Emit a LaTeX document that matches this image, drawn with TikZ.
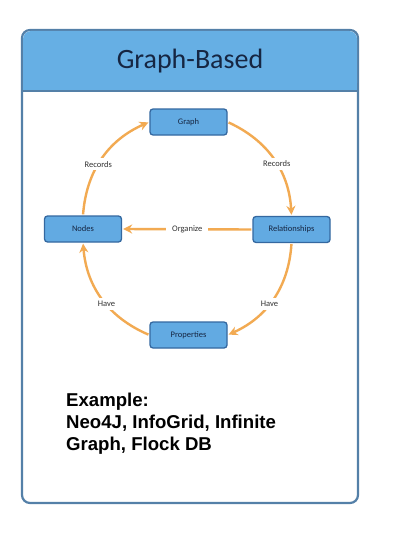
\documentclass[tikz,border=0pt]{standalone}
\usepackage{fontspec}
\setmainfont{Carlito}
\newfontfamily\arialfont{Liberation Sans}
\usetikzlibrary{arrows.meta,positioning}
\definecolor{hdrblue}{RGB}{102,175,228}
\definecolor{boxedge}{RGB}{84,128,168}
\definecolor{nodeblue}{RGB}{98,170,226}
\definecolor{nodeedge}{RGB}{52,104,160}
\definecolor{navy}{RGB}{22,38,66}
\definecolor{arc}{RGB}{242,170,82}

\begin{document}
\begin{tikzpicture}[x=1pt,y=1pt,>=Stealth]
\tikzstyle{b}=[draw=nodeedge,fill=nodeblue,line width=1.3pt,rounded corners=3pt,minimum width=77pt,minimum height=26pt,text=navy,font=\fontsize{8.5}{10}\selectfont]
\tikzstyle{arr}=[->,draw=arc,line width=2.4pt,shorten >=1pt,shorten <=1pt,-{Stealth[length=9pt,width=9pt]}]
\tikzstyle{lab}=[fill=white,inner sep=3pt,text=black!80,font=\fontsize{8.5}{10}\selectfont]
\useasboundingbox (0,0) rectangle (401,-551);
\draw[boxedge,line width=2.2pt,fill=white,rounded corners=8pt] (22,-30) rectangle (358,-503);
\fill[hdrblue,rounded corners=8pt] (23,-31) -- (357,-31) -- (357,-91) -- (23,-91) -- cycle;
\fill[hdrblue] (23,-60) rectangle (357,-91);
\draw[boxedge,line width=1.4pt] (23,-91) -- (357,-91);
\node[text=navy,font=\fontsize{28}{32}\selectfont] (title) at (190,-61) {Graph-Based};
\node[b] (graph) at (188.5,-122) {Graph};
\node[b] (nodes) at (83,-229) {Nodes};
\node[b] (rel) at (291.5,-229.5) {Relationships};
\node[b] (props) at (188.5,-335) {Properties};
\draw[arr] (graph.east) to[bend left=31] node[lab,pos=0.55] {Records} (rel.north);
\draw[arr] (rel.south) to[bend left=31] node[lab,pos=0.56] {Have} (props.east);
\draw[arr] (props.west) to[bend left=31] node[lab,pos=0.44] {Have} (nodes.south);
\draw[arr] (nodes.north) to[bend left=31] node[lab,pos=0.44] {Records} (graph.west);
\draw[arr] (rel.west) -- node[lab,inner sep=6pt] {Organize} (nodes.east);
\node[font=\arialfont\bfseries\fontsize{18.6}{22}\selectfont,align=left,anchor=north west,inner sep=0pt] (ex) at (66,-393) {Example:\\Neo4J, InfoGrid, Infinite\\Graph, Flock DB};
\end{tikzpicture}
\end{document}
